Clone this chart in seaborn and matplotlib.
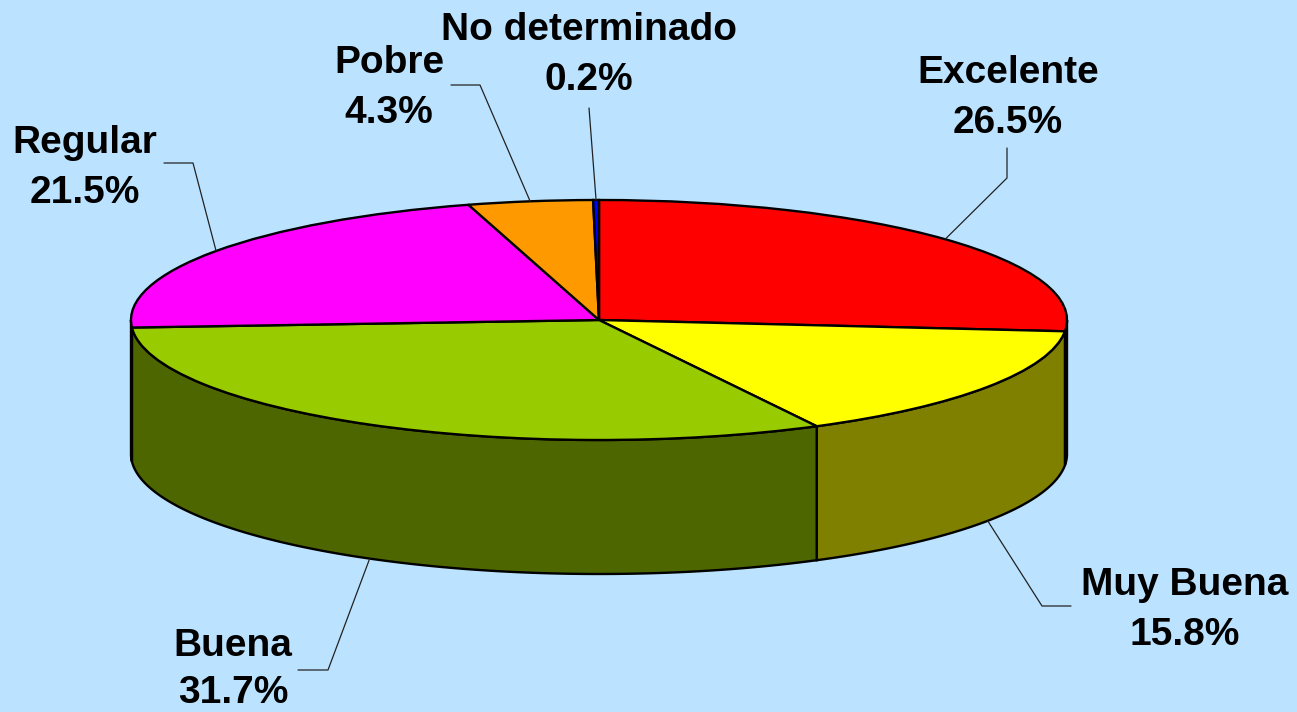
import numpy as np
import matplotlib
matplotlib.use("Agg")
import matplotlib.pyplot as plt
from matplotlib.colors import to_rgb
import seaborn as sns

# data
categories = ["Excelente", "Muy Buena", "Buena", "Regular", "Pobre", "No determinado"]
shares = [26.5, 15.8, 31.7, 21.5, 4.3, 0.2]
top_colors = ["#FF0000", "#FFFF00", "#99CC00", "#FF00FF", "#FF9900", "#0000FF"]

sns.set_theme(style="white")
plt.rcParams["font.family"] = ["Liberation Sans", "DejaVu Sans"]

BG = "#BBE3FF"
W, H = 1297, 712
CX, CY = 599, 320      # pie centre in px
RX, RY = 468, 120      # ellipse radii in px
DEPTH = 134 / RY       # wall height, in y units


def px(x, y):
    # pixel position -> data coords (1 unit = RX px across, RY px down)
    return (x - CX) / RX, (CY - y) / RY


# label text centre x, first baseline y, leader elbow points (all px)
label_layout = {
    "Excelente": (1008, 83, [(1007, 178), (1007, 148)]),
    "Muy Buena": (1185, 595, [(1042, 606), (1071, 606)]),
    "Buena": (233, 656, [(328, 670), (298, 670)]),
    "Regular": (85, 153, [(193, 163), (164, 163)]),
    "Pobre": (389, 73, [(480, 85), (451, 85)]),
    "No determinado": (589, 40, [(589, 108)]),
}

fig = plt.figure(figsize=(W / 100, H / 100), dpi=100, facecolor=BG)
ax = fig.add_axes([0, 0, 1, 1])
ax.set_facecolor(BG)

total = sum(shares)
bounds = 90 - 360 * np.concatenate([[0], np.cumsum(shares)]) / total

# front walls (only the lower half of the ellipse is visible)
for i, c in enumerate(top_colors):
    hi = min(bounds[i], 0)
    lo = max(bounds[i + 1], -180)
    if hi <= lo:
        continue
    t = np.radians(np.linspace(hi, lo, 90))
    xs = np.concatenate([np.cos(t), np.cos(t[::-1])])
    ys = np.concatenate([np.sin(t), np.sin(t[::-1]) - DEPTH])
    dark = tuple(0.5 * v for v in to_rgb(c))
    ax.fill(xs, ys, color=dark, ec="black", lw=1.7, zorder=1)

# top face
ax.pie(shares, colors=top_colors, startangle=90, counterclock=False,
       wedgeprops=dict(ec="black", lw=1.7, zorder=2))

# labels + leader lines
for i, name in enumerate(categories):
    tx, ty, elbows = label_layout[name]
    mid = np.radians((bounds[i] + bounds[i + 1]) / 2)
    ax_, ay_ = np.cos(mid), np.sin(mid)
    if ay_ < 0:
        ay_ -= DEPTH
    pts = [(ax_, ay_)] + [px(*p) for p in elbows]
    ax.plot([p[0] for p in pts], [p[1] for p in pts], color="#222222",
            lw=0.9, zorder=3)
    x1, y1 = px(tx, ty)
    x2, y2 = px(tx, ty + 47 if name == "Buena" else ty + 50)
    ax.text(x1, y1, name, ha="center", va="baseline", fontsize=28,
            fontweight="bold", color="black", zorder=4)
    ax.text(x2, y2, f"{shares[i]:.1f}%", ha="center", va="baseline",
            fontsize=28, fontweight="bold", color="black", zorder=4)

ax.set_aspect("auto")
ax.set_xlim(px(0, 0)[0], px(W, 0)[0])
ax.set_ylim(px(0, H)[1], px(0, 0)[1])
ax.axis("off")

fig.savefig("out.png", dpi=100, facecolor=BG)
